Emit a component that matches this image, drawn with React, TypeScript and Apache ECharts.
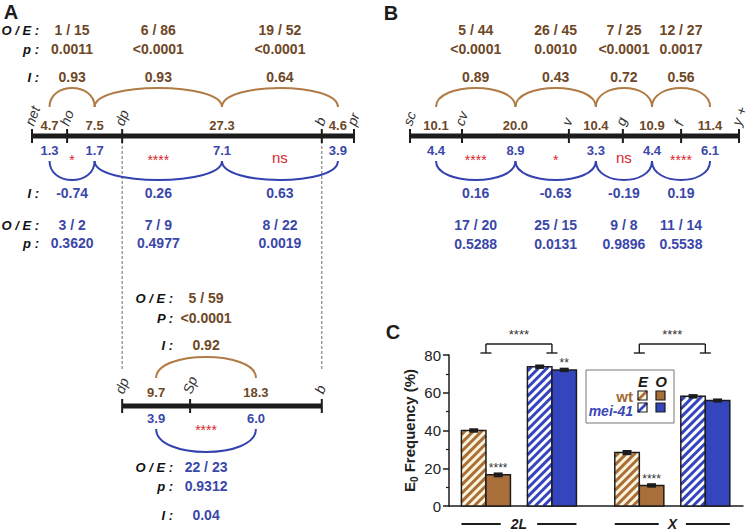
import React, { useEffect, useRef } from "react";
import * as echarts from "echarts";

const FONT = "'Liberation Sans', Arial, Helvetica, sans-serif";
const INK = "#1c1c1c";
const BROWN_TEXT = "#6e4727";
const BROWN_ARC = "#b07b45";
const BLUE_TEXT = "#3a47a9";
const BLUE_ARC = "#3442b0";
const RED = "#d8262e";
const BAR_BROWN = "#a96f3b";
const BAR_BLUE = "#3445bd";
const HATCH_BG_BROWN = "#fdf4dc";
const HATCH_BG_BLUE = "#ffffff";

// ---------- Panel A, upper map ----------
const mapAMarkers = ["net", "ho", "dp", "b", "pr"];
const mapAPos = [0, 10.9, 28.0, 90.0, 100];
const mapAWtInt = [4.7, 7.5, 27.3, 4.6];
const mapAMeiInt = [1.3, 1.7, 7.1, 3.9];
const mapAWtOE = ["1 / 15", "6 / 86", "19 / 52"];
const mapAWtP = ["0.0011", "<0.0001", "<0.0001"];
const mapAWtI = [0.93, 0.93, 0.64];
const mapAMeiI = [-0.74, 0.26, 0.63];
const mapAMeiOE = ["3 / 2", "7 / 9", "8 / 22"];
const mapAMeiP = ["0.3620", "0.4977", "0.0019"];
const mapASig = ["*", "****", "ns"];

// ---------- Panel A, lower map ----------
const mapA2Markers = ["dp", "Sp", "b"];
const mapA2Pos = [28.0, 49.1, 90.0];
const mapA2WtInt = [9.7, 18.3];
const mapA2MeiInt = [3.9, 6.0];
const mapA2WtOE = ["5 / 59"];
const mapA2WtP = ["<0.0001"];
const mapA2WtI = [0.92];
const mapA2MeiOE = ["22 / 23"];
const mapA2MeiP = ["0.9312"];
const mapA2MeiI = [0.04];
const mapA2Sig = ["****"];

// ---------- Panel B ----------
const mapBMarkers = ["sc", "cv", "v", "g", "f", "y +"];
const mapBPos = [0, 15.8, 48.3, 64.7, 82.4, 100];
const mapBWtInt = [10.1, 20.0, 10.4, 10.9, 11.4];
const mapBMeiInt = [4.4, 8.9, 3.3, 4.4, 6.1];
const mapBWtOE = ["5 / 44", "26 / 45", "7 / 25", "12 / 27"];
const mapBWtP = ["<0.0001", "0.0010", "<0.0001", "0.0017"];
const mapBWtI = [0.89, 0.43, 0.72, 0.56];
const mapBMeiI = [0.16, -0.63, -0.19, 0.19];
const mapBMeiOE = ["17 / 20", "25 / 15", "9 / 8", "11 / 14"];
const mapBMeiP = ["0.5288", "0.0131", "0.9896", "0.5538"];
const mapBSig = ["****", "*", "ns", "****"];

// ---------- Panel C ----------
const chromosomes = ["2L", "X"];
const wtExpected = [40.0, 28.3];
const wtObserved = [16.5, 10.9];
const meiExpected = [73.8, 58.1];
const meiObserved = [72.1, 55.9];
const wtExpectedErr = [0.6, 0.8];
const wtObservedErr = [0.7, 0.6];
const meiExpectedErr = [0.6, 0.6];
const meiObservedErr = [0.6, 0.5];
const wtObservedSig = ["****", "****"];
const meiObservedSig = ["**", ""];
const genotypeSig = ["****", "****"];
const yTicks = [0, 20, 40, 60, 80];

const f1 = (v: number) => v.toFixed(1);
const f2 = (v: number) => v.toFixed(2);

function txt(text: string, x: number, y: number, o: any = {}) {
  const align = o.align || "center";
  return {
    type: "text",
    x,
    y,
    rotation: o.rotation || 0,
    silent: true,
    style: {
      text,
      fill: o.fill || INK,
      fontSize: o.size || 14,
      fontWeight: o.weight || "bold",
      fontStyle: o.italic ? "italic" : "normal",
      fontFamily: FONT,
      align,
      textAlign: align,
      verticalAlign: "middle",
      textVerticalAlign: "middle",
    },
  };
}

function ln(x1: number, y1: number, x2: number, y2: number, stroke: string, lineWidth: number, extra: any = {}) {
  return { type: "line", silent: true, shape: { x1, y1, x2, y2 }, style: { stroke, lineWidth, ...extra } };
}

function arc(xa: number, xb: number, yb: number, h: number, stroke: string) {
  const k = (4 / 3) * h;
  return {
    type: "bezierCurve",
    silent: true,
    shape: { x1: xa, y1: yb, cpx1: xa, cpy1: yb - k, cpx2: xb, cpy2: yb - k, x2: xb, y2: yb },
    style: { stroke, lineWidth: 2, fill: "none" },
  };
}

type Row = { header?: string; values: string[]; dy: number };

function mapSeries(idx: number, m: any) {
  return {
    type: "custom",
    coordinateSystem: "cartesian2d",
    xAxisIndex: idx,
    yAxisIndex: idx,
    silent: true,
    clip: false,
    data: [[0, 0]],
    renderItem: (_p: any, api: any) => {
      const L = m.layout;
      const y0 = api.coord([0, 0])[1];
      const xs: number[] = m.pos.map((p: number) => api.coord([p, 0])[0]);
      const mids = xs.slice(1).map((x, i) => (x + xs[i]) / 2);
      const arcMids = mids.slice(1).map((x, i) => (x + mids[i]) / 2);
      const ch: any[] = [];
      (m.guides || []).forEach((gi: number) =>
        ch.push(ln(xs[gi], y0, xs[gi], y0 + m.guideLen, "#444", 0.8, { lineDash: [3, 2] }))
      );
      ch.push(ln(xs[0], y0, xs[xs.length - 1], y0, INK, 5));
      xs.forEach((x, i) => {
        ch.push(ln(x, y0 - 7, x, y0 + 7, INK, 2));
        ch.push(
          txt(m.markers[i], x - 3, y0 + L.markerDy, {
            align: "left",
            rotation: (70 * Math.PI) / 180,
            weight: "normal",
            italic: true,
            size: 14,
            fill: "#333",
          })
        );
      });
      mids.forEach((x, i) => {
        ch.push(txt(f1(m.wtInt[i]), x, y0 + L.wtValDy, { fill: BROWN_TEXT, size: 13 }));
        ch.push(txt(f1(m.meiInt[i]), x, y0 + L.meiValDy, { fill: BLUE_TEXT, size: 13 }));
      });
      arcMids.forEach((_x, i) => {
        ch.push(arc(mids[i], mids[i + 1], y0 + L.wtArcBase, L.wtArcH, BROWN_ARC));
        ch.push(arc(mids[i], mids[i + 1], y0 + L.meiArcBase, -L.meiArcH, BLUE_ARC));
        const s = m.sig[i];
        const isStar = s.indexOf("*") >= 0;
        ch.push(
          txt(s, arcMids[i], y0 + L.sigDy + (isStar ? 2.5 : 0), {
            fill: RED,
            size: isStar ? 14 : 15,
            weight: "normal",
          })
        );
      });
      const rows = (list: Row[], color: string) =>
        list.forEach((r) => {
          if (m.headerDx !== undefined && r.header)
            ch.push(txt(r.header, xs[0] + m.headerDx, y0 + r.dy, { align: "right", italic: true, fill: "#111", size: 13 }));
          r.values.forEach((v, i) => ch.push(txt(v, arcMids[i], y0 + r.dy, { fill: color })));
        });
      rows(m.wtRows, BROWN_TEXT);
      rows(m.meiRows, BLUE_TEXT);
      return { type: "group", children: ch };
    },
  };
}

const BAR_W = 24.5;
const PAIR_GAP = 17;

function stripes(x0: number, y0: number, x1: number, y1: number, step: number, stroke: string, lw: number) {
  const out: any[] = [];
  for (let c = x0 + y0 + step / 2; c < x1 + y1; c += step) {
    const xa = Math.max(x0, c - y1);
    const xb = Math.min(x1, c - y0);
    if (xb <= xa) continue;
    out.push(ln(xa, c - xa, xb, c - xb, stroke, lw));
  }
  return out;
}

function barSeries(name: string, g: number, t: number, vals: number[], errs: number[], sig: string[]) {
  const color = g === 0 ? BAR_BROWN : BAR_BLUE;
  return {
    type: "custom",
    name,
    coordinateSystem: "cartesian2d",
    xAxisIndex: 4,
    yAxisIndex: 4,
    silent: true,
    clip: false,
    data: chromosomes.map((_c, i) => [i, vals[i], errs[i]]),
    renderItem: (params: any, api: any) => {
      const cat = api.value(0);
      const v = api.value(1);
      const e = api.value(2);
      const [cx, yTop] = api.coord([cat, v]);
      const yBase = api.coord([cat, 0])[1];
      const pairLeft = g === 0 ? cx - PAIR_GAP / 2 - 2 * BAR_W : cx + PAIR_GAP / 2;
      const x0 = pairLeft + t * BAR_W;
      const x1 = x0 + BAR_W;
      const ch: any[] = [];
      ch.push({
        type: "rect",
        shape: { x: x0, y: yTop, width: BAR_W, height: yBase - yTop },
        style: { fill: t === 0 ? (g === 0 ? HATCH_BG_BROWN : HATCH_BG_BLUE) : color },
      });
      if (t === 0) ch.push(...stripes(x0, yTop, x1, yBase, 8.4, color, 3));
      ch.push({
        type: "rect",
        shape: { x: x0, y: yTop, width: BAR_W, height: yBase - yTop },
        style: { fill: "none", stroke: INK, lineWidth: 1.5 },
      });
      const bx = (x0 + x1) / 2;
      const yHi = api.coord([cat, v + e])[1];
      const yLo = api.coord([cat, v - e])[1];
      ch.push(ln(bx, yHi, bx, yLo, INK, 2));
      ch.push(ln(bx - 4.5, yHi, bx + 4.5, yHi, INK, 2.2));
      ch.push(ln(bx - 4.5, yLo, bx + 4.5, yLo, INK, 2.2));
      const s = sig[params.dataIndex];
      if (s) ch.push(txt(s, bx, yTop - 9 + 2.5, { size: 12, weight: "normal", fill: "#333" }));
      return { type: "group", children: ch };
    },
  };
}

function bracketSeries() {
  return {
    type: "custom",
    coordinateSystem: "cartesian2d",
    xAxisIndex: 4,
    yAxisIndex: 4,
    silent: true,
    clip: false,
    data: chromosomes.map((_c, i) => [i, 80]),
    renderItem: (params: any, api: any) => {
      const cat = api.value(0);
      const [cx, yMax] = api.coord([cat, api.value(1)]);
      const yBase = api.coord([cat, 0])[1];
      const l = cx - PAIR_GAP / 2 - BAR_W;
      const r = cx + PAIR_GAP / 2 + BAR_W;
      const yb = yMax - 2;
      const yt = yb - 9;
      const ch: any[] = [
        ln(l, yt, r, yt, INK, 1.4),
        ln(l, yt, l, yb, INK, 1.4),
        ln(r, yt, r, yb, INK, 1.4),
        ln(l - 5.5, yb, l + 5.5, yb, INK, 1.4),
        ln(r - 5.5, yb, r + 5.5, yb, INK, 1.4),
        txt(genotypeSig[params.dataIndex], (l + r) / 2, yt - 12 + 2.5, { size: 13, weight: "normal", fill: "#333" }),
      ];
      const label = chromosomes[params.dataIndex];
      const gap = label.length * 4.6 + 9;
      const left = cx - PAIR_GAP / 2 - 2 * BAR_W;
      const right = cx + PAIR_GAP / 2 + 2 * BAR_W;
      const yl = yBase + 18;
      ch.push(ln(left, yl, cx - gap, yl, INK, 2));
      ch.push(ln(cx + gap, yl, right, yl, INK, 2));
      ch.push(txt(label, cx, yl, { italic: true, size: 14, fill: INK }));
      return { type: "group", children: ch };
    },
  };
}

function buildOption() {
  const layoutTop = {
    markerDy: -11, wtValDy: -11, meiValDy: 14, wtArcBase: -29, wtArcH: 19,
    meiArcBase: 25, meiArcH: 19, sigDy: 21,
  };
  const layoutBottom = {
    markerDy: -13, wtValDy: -14, meiValDy: 12, wtArcBase: -28, wtArcH: 21,
    meiArcBase: 23, meiArcH: 23, sigDy: 21,
  };
  const mapA = {
    markers: mapAMarkers, pos: mapAPos, wtInt: mapAWtInt, meiInt: mapAMeiInt, sig: mapASig,
    layout: layoutTop, headerDx: 7, guides: [2, 3], guideLen: 234,
    wtRows: [
      { header: "O / E :", values: mapAWtOE, dy: -106 },
      { header: "p :", values: mapAWtP, dy: -87 },
      { header: "I :", values: mapAWtI.map(f2), dy: -59 },
    ],
    meiRows: [
      { header: "I :", values: mapAMeiI.map(f2), dy: 57 },
      { header: "O / E :", values: mapAMeiOE, dy: 89 },
      { header: "p :", values: mapAMeiP, dy: 107 },
    ],
  };
  const mapA2 = {
    markers: mapA2Markers, pos: mapA2Pos, wtInt: mapA2WtInt, meiInt: mapA2MeiInt, sig: mapA2Sig,
    layout: layoutBottom, headerDx: 51,
    wtRows: [
      { header: "O / E :", values: mapA2WtOE, dy: -108 },
      { header: "P :", values: mapA2WtP, dy: -88 },
      { header: "I :", values: mapA2WtI.map(f2), dy: -61 },
    ],
    meiRows: [
      { header: "O / E :", values: mapA2MeiOE, dy: 61 },
      { header: "p :", values: mapA2MeiP, dy: 80 },
      { header: "I :", values: mapA2MeiI.map(f2), dy: 109 },
    ],
  };
  const mapB = {
    markers: mapBMarkers, pos: mapBPos, wtInt: mapBWtInt, meiInt: mapBMeiInt, sig: mapBSig,
    layout: layoutTop,
    wtRows: [
      { values: mapBWtOE, dy: -106 },
      { values: mapBWtP, dy: -87 },
      { values: mapBWtI.map(f2), dy: -59 },
    ],
    meiRows: [
      { values: mapBMeiI.map(f2), dy: 57 },
      { values: mapBMeiOE, dy: 89 },
      { values: mapBMeiP, dy: 108 },
    ],
  };

  const hiddenX = (gridIndex: number) => ({ gridIndex, type: "value", min: 0, max: 100, show: false });
  const hiddenY = (gridIndex: number) => ({ gridIndex, type: "value", min: 0, max: 1, show: false });

  const legendSwatch = (x: number, y: number, color: string, bg: string, hatched: boolean) => {
    const children: any[] = [
      { type: "rect", shape: { x, y, width: 9, height: 9 }, style: { fill: hatched ? bg : color } },
    ];
    if (hatched) children.push(ln(x, y + 9, x + 9, y, color, 2.6));
    children.push({ type: "rect", shape: { x, y, width: 9, height: 9 }, style: { fill: "none", stroke: INK, lineWidth: 1.2 } });
    return { type: "group", children };
  };

  return {
    animation: false,
    backgroundColor: "#ffffff",
    grid: [
      { left: 32, top: 135, width: 322, height: 1 },
      { left: 32, top: 405, width: 322, height: 1 },
      { left: 410, top: 135, width: 329, height: 1 },
      { left: 449, top: 355, width: 294, height: 151 },
      { left: 442.25, top: 355, width: 311, height: 151 },
    ],
    xAxis: [
      hiddenX(0),
      hiddenX(1),
      hiddenX(2),
      {
        gridIndex: 3, type: "value", min: 0, max: 1,
        axisLine: { show: true, lineStyle: { color: INK, width: 1.5 } },
        axisTick: { show: false }, axisLabel: { show: false }, splitLine: { show: false },
      },
      {
        gridIndex: 4, type: "category", data: chromosomes,
        axisLine: { show: false }, axisTick: { show: false }, axisLabel: { show: false },
      },
    ],
    yAxis: [
      hiddenY(0),
      hiddenY(1),
      hiddenY(2),
      {
        gridIndex: 3, type: "value", min: yTicks[0], max: yTicks[yTicks.length - 1], interval: 20,
        axisLine: { show: true, lineStyle: { color: INK, width: 1.5 } },
        axisTick: { show: true, length: 6, lineStyle: { color: INK, width: 1.5 } },
        minorTick: { show: true, splitNumber: 2, length: 3, lineStyle: { color: INK, width: 1.2 } },
        splitLine: { show: false },
        axisLabel: { fontSize: 15, color: "#222", margin: 8, fontFamily: FONT },
        name: "{a|E}{s|0}{a| Frequency (%)}",
        nameLocation: "middle",
        nameRotate: 90,
        nameGap: 30,
        nameTextStyle: {
          fontFamily: FONT, fontWeight: "bold", fontSize: 15, color: "#222",
          rich: {
            a: { fontFamily: FONT, fontWeight: "bold", fontSize: 15, color: "#222", lineHeight: 20, verticalAlign: "middle" },
            s: { fontFamily: FONT, fontWeight: "bold", fontSize: 10, color: "#222", lineHeight: 20, verticalAlign: "bottom" },
          },
        },
      },
      { gridIndex: 4, type: "value", min: 0, max: 80, show: false },
    ],
    graphic: [
      txt("A", 11, 12, { size: 20 }),
      txt("B", 391, 13, { size: 20 }),
      txt("C", 393, 332, { size: 20 }),
      {
        type: "group",
        children: [
          { type: "rect", shape: { x: 586, y: 370, width: 88, height: 53 }, style: { fill: "#fff", stroke: "#777", lineWidth: 1 } },
          txt("E", 643, 381, { italic: true, size: 15 }),
          txt("O", 661, 381, { italic: true, size: 15 }),
          txt("wt", 633, 396, { align: "right", size: 15, fill: "#a36a36" }),
          txt("mei-41", 633, 411, { align: "right", italic: true, size: 14, fill: "#3a47b5" }),
          legendSwatch(638, 391, BAR_BROWN, HATCH_BG_BROWN, true),
          legendSwatch(656, 391, BAR_BROWN, HATCH_BG_BROWN, false),
          legendSwatch(638, 403, BAR_BLUE, HATCH_BG_BLUE, true),
          legendSwatch(656, 403, BAR_BLUE, HATCH_BG_BLUE, false),
        ],
      },
    ],
    series: [
      mapSeries(0, mapA),
      mapSeries(1, mapA2),
      mapSeries(2, mapB),
      bracketSeries(),
      barSeries("wt E", 0, 0, wtExpected, wtExpectedErr, ["", ""]),
      barSeries("wt O", 0, 1, wtObserved, wtObservedErr, wtObservedSig),
      barSeries("mei-41 E", 1, 0, meiExpected, meiExpectedErr, ["", ""]),
      barSeries("mei-41 O", 1, 1, meiObserved, meiObservedErr, meiObservedSig),
    ],
  };
}

export default function App() {
  const ref = useRef<HTMLDivElement>(null);
  useEffect(() => {
    document.body.style.margin = "0";
    const chart = echarts.init(ref.current!, null, { renderer: "svg" });
    chart.setOption(buildOption() as any);
    return () => chart.dispose();
  }, []);
  return <div ref={ref} style={{ width: 749, height: 531, background: "#fff" }} />;
}
